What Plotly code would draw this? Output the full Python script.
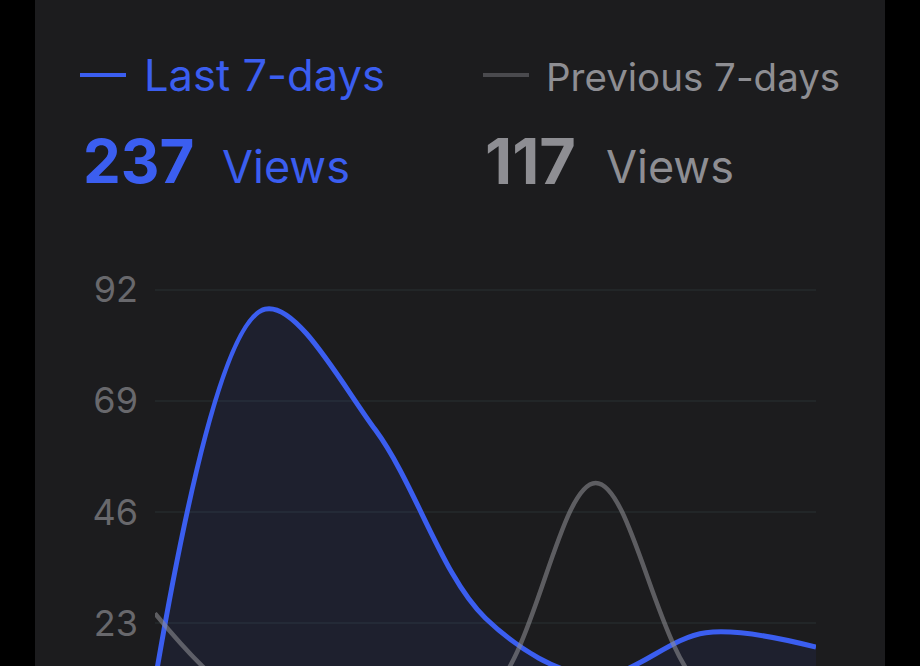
import plotly.graph_objects as go

# data
days = ["Mon", "Tue", "Wed", "Thu", "Fri", "Sat", "Sun"]
last_7 = [11, 88, 63, 24, 12, 21, 18]       # total 237
prev_7 = [25, 5, 10, 8, 52, 9, 8]           # total 117
y_ticks = [23, 46, 69, 92]

BLUE = "#3b5ef0"
GREY_TXT = "#8e8e93"
CARD = "#1c1c1e"
W, H = 920, 666
L, R, T, B = 155, 104, 270, 0
PW, PH = W - L - R, H - T - B


def px(x):
    return (x - L) / PW


def py(y):
    return (H - B - y) / PH


fig = go.Figure()
fig.add_trace(go.Scatter(
    x=days, y=last_7, mode="lines", name="Last 7-days",
    line=dict(color=BLUE, width=5, shape="spline", smoothing=1),
    fill="tozeroy", fillcolor="rgba(59,94,240,0.08)",
))
fig.add_trace(go.Scatter(
    x=days, y=prev_7, mode="lines", name="Previous 7-days",
    line=dict(color="rgba(142,142,147,0.58)", width=4.5, shape="spline", smoothing=1),
))

# header (legend + totals)
font = "Inter, Roboto, sans-serif"
ann = [
    (142, 75, "Last 7-days", 43.5, BLUE),
    (544, 77, "Previous 7-days", 38.5, GREY_TXT),
    (81, 161, "<b>%d</b>" % sum(last_7), 60, BLUE),
    (220, 166, "Views", 45, BLUE),
    (483, 161, "<b>%d</b>" % sum(prev_7), 63, GREY_TXT),
    (604, 166, "Views", 45, GREY_TXT),
]
for x, y, txt, size, col in ann:
    fig.add_annotation(x=px(x), y=py(y), xref="paper", yref="paper", text=txt,
                       showarrow=False, xanchor="left", yanchor="middle",
                       font=dict(family=font, size=size, color=col))

shapes = [
    dict(type="rect", xref="paper", yref="paper", x0=px(0), x1=px(35), y0=-0.5, y1=2,
         fillcolor="#000000", line_width=0, layer="above"),
    dict(type="rect", xref="paper", yref="paper", x0=px(885), x1=px(W), y0=-0.5, y1=2,
         fillcolor="#000000", line_width=0, layer="above"),
    dict(type="line", xref="paper", yref="paper", x0=px(80), x1=px(126), y0=py(75), y1=py(75),
         line=dict(color=BLUE, width=4)),
    dict(type="line", xref="paper", yref="paper", x0=px(483), x1=px(529), y0=py(75), y1=py(75),
         line=dict(color="#4a4a4e", width=4)),
]

fig.update_layout(
    width=W, height=H,
    margin=dict(l=L, r=R, t=T, b=B),
    paper_bgcolor=CARD, plot_bgcolor=CARD,
    showlegend=False,
    shapes=shapes,
    xaxis=dict(range=[0, 6], showgrid=False, zeroline=False, showticklabels=False,
               showline=False),
    yaxis=dict(range=[14.1, 96.1], tickvals=y_ticks, showgrid=True, gridcolor="#222628",
               gridwidth=1.5, zeroline=False, showline=False, ticklabelstandoff=16,
               tickfont=dict(family=font, size=36, color="#68686c")),
)

fig.write_html("out.html", config={"displayModeBar": False},
               post_script="document.body.style.margin='0';document.body.style.background='#000';")
